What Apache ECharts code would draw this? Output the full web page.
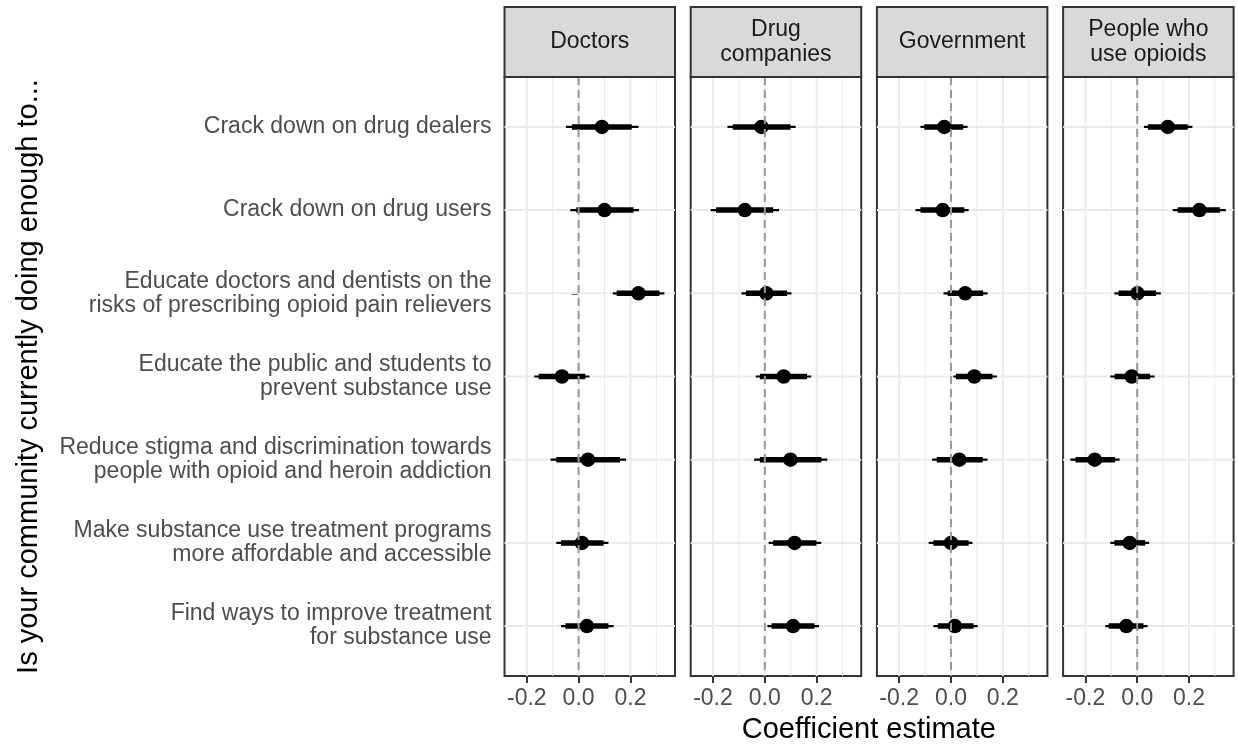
<!DOCTYPE html>
<html><head><meta charset="utf-8">
<script src="https://cdn.jsdelivr.net/npm/echarts@6/dist/echarts.min.js"></script>
<style>html,body{margin:0;padding:0;background:#fff}#c{width:1238px;height:744px}</style>
</head><body><div id="c"></div>
<script>
// ---------- DATA ----------
const categories = [
  'Crack down on drug dealers',
  'Crack down on drug users',
  'Educate doctors and dentists on the\nrisks of prescribing opioid pain relievers',
  'Educate the public and students to\nprevent substance use',
  'Reduce stigma and discrimination towards\npeople with opioid and heroin addiction',
  'Make substance use treatment programs\nmore affordable and accessible',
  'Find ways to improve treatment\nfor substance use'
];
const panels = ['Doctors', 'Drug\ncompanies', 'Government', 'People who\nuse opioids'];

const doctorsEst     = [0.090, 0.100, 0.231, -0.064, 0.036, 0.013, 0.032];
const doctorsThickLo = [-0.026, -0.009, 0.147, -0.154, -0.086, -0.068, -0.051];
const doctorsThickHi = [0.205, 0.212, 0.312, 0.026, 0.160, 0.096, 0.115];
const doctorsThinLo  = [-0.049, -0.032, 0.132, -0.171, -0.108, -0.086, -0.068];
const doctorsThinHi  = [0.231, 0.233, 0.331, 0.042, 0.183, 0.115, 0.135];

const drugCoEst     = [-0.013, -0.077, 0.006, 0.073, 0.099, 0.115, 0.109];
const drugCoThickLo = [-0.124, -0.188, -0.073, -0.019, -0.019, 0.032, 0.026];
const drugCoThickHi = [0.099, 0.032, 0.086, 0.163, 0.218, 0.199, 0.192];
const drugCoThinLo  = [-0.144, -0.209, -0.090, -0.035, -0.041, 0.015, 0.010];
const drugCoThinHi  = [0.119, 0.055, 0.103, 0.179, 0.241, 0.218, 0.209];

const govEst     = [-0.026, -0.032, 0.055, 0.090, 0.032, 0.000, 0.015];
const govThickLo = [-0.103, -0.118, -0.013, 0.019, -0.055, -0.068, -0.051];
const govThickHi = [0.047, 0.051, 0.124, 0.160, 0.122, 0.068, 0.087];
const govThinLo  = [-0.118, -0.137, -0.029, 0.009, -0.073, -0.086, -0.068];
const govThinHi  = [0.064, 0.068, 0.141, 0.177, 0.141, 0.083, 0.103];

const usersEst     = [0.118, 0.240, 0.001, -0.021, -0.164, -0.029, -0.042];
const usersThickLo = [0.041, 0.156, -0.072, -0.087, -0.238, -0.088, -0.110];
const usersThickHi = [0.195, 0.319, 0.073, 0.050, -0.085, 0.031, 0.024];
const usersThinLo  = [0.026, 0.137, -0.088, -0.104, -0.258, -0.104, -0.123];
const usersThinHi  = [0.213, 0.342, 0.091, 0.067, -0.068, 0.046, 0.040];

const xTickValues = [-0.2, 0.0, 0.2];
const xTickLabels = ['-0.2', '0.0', '0.2'];
const xMajorGrid = [-0.2, 0.0, 0.2];
const xMinorGrid = [-0.1, 0.1, 0.3];
const refLineValue = [0];

// ---------- LAYOUT ----------
const panelData = [
  [doctorsEst, doctorsThickLo, doctorsThickHi, doctorsThinLo, doctorsThinHi],
  [drugCoEst, drugCoThickLo, drugCoThickHi, drugCoThinLo, drugCoThinHi],
  [govEst, govThickLo, govThickHi, govThinLo, govThinHi],
  [usersEst, usersThickLo, usersThickHi, usersThinLo, usersThinHi]
];
const FONT = '"Liberation Sans", Arial, Helvetica, sans-serif';
const GRID_LEFT0 = 504.5, GRID_STEP = 186.2, GRID_W = 170.5, GRID_TOP = 77, GRID_H = 599;
const X_MIN = -0.286, X_MAX = 0.372;
const Y_MIN = 0.4, Y_MAX = 7.6;
const rowValues = categories.map((c, i) => i + 1);

const grids = [], xAxes = [], yAxes = [], series = [], graphics = [];

function rangeRender(width) {
  return function (params, api) {
    const p1 = api.coord([api.value(0), api.value(2)]);
    const p2 = api.coord([api.value(1), api.value(2)]);
    return { type: 'line', shape: { x1: p1[0], y1: p1[1], x2: p2[0], y2: p2[1] },
      style: { stroke: '#000000', lineWidth: width, lineCap: 'butt' } };
  };
}

panels.forEach((name, p) => {
  const left = GRID_LEFT0 + p * GRID_STEP;
  const [est, tkLo, tkHi, tnLo, tnHi] = panelData[p];
  grids.push({ left: left, top: GRID_TOP, width: GRID_W, height: GRID_H, show: true,
    borderColor: '#333333', borderWidth: 2, backgroundColor: '#ffffff' });
  xAxes.push({
    type: 'value', gridIndex: p, min: X_MIN, max: X_MAX,
    axisLine: { show: false }, splitLine: { show: false }, minorTick: { show: false },
    axisTick: { show: true, customValues: xTickValues, length: 7, lineStyle: { color: '#333333', width: 2 } },
    axisLabel: { customValues: xTickValues, margin: 11, fontSize: 23, fontFamily: FONT, color: '#4d4d4d',
      formatter: v => xTickLabels[xTickValues.findIndex(t => Math.abs(t - v) < 1e-6)] }
  });
  yAxes.push({
    type: 'value', gridIndex: p, min: Y_MIN, max: Y_MAX, inverse: true,
    axisLine: { show: false }, splitLine: { show: false },
    axisTick: { show: p === 0, customValues: rowValues, length: 7, lineStyle: { color: '#333333', width: 2 } },
    axisLabel: { show: p === 0, customValues: rowValues, margin: 13, fontSize: 23, lineHeight: 24,
      fontFamily: FONT, color: '#4d4d4d', align: 'right',
      formatter: v => categories[Math.round(v) - 1] }
  });
  // vertical grid lines
  series.push({
    type: 'custom', xAxisIndex: p, yAxisIndex: p, z: 1, silent: true, clip: false,
    encode: { x: 0, y: 1 },
    data: xMajorGrid.map(v => [v, 1, 1]).concat(xMinorGrid.map(v => [v, 1, 0])),
    renderItem: function (params, api) {
      const cs = params.coordSys;
      const x = api.coord([api.value(0), 1])[0];
      return { type: 'line', shape: { x1: x, y1: cs.y, x2: x, y2: cs.y + cs.height },
        style: { stroke: '#ebebeb', lineWidth: api.value(2) ? 2 : 1 } };
    }
  });
  // horizontal grid lines
  series.push({
    type: 'custom', xAxisIndex: p, yAxisIndex: p, z: 1, silent: true, clip: false,
    encode: { x: 0, y: 1 },
    data: rowValues.map(r => [0, r]),
    renderItem: function (params, api) {
      const cs = params.coordSys;
      const y = api.coord([0, api.value(1)])[1];
      return { type: 'line', shape: { x1: cs.x, y1: y, x2: cs.x + cs.width, y2: y },
        style: { stroke: '#ebebeb', lineWidth: 2 } };
    }
  });
  // thin interval
  series.push({
    type: 'custom', xAxisIndex: p, yAxisIndex: p, z: 3, silent: true,
    encode: { x: [0, 1], y: 2 },
    data: rowValues.map((r, i) => [tnLo[i], tnHi[i], r]),
    renderItem: rangeRender(2.2)
  });
  // thick interval
  series.push({
    type: 'custom', xAxisIndex: p, yAxisIndex: p, z: 4, silent: true,
    encode: { x: [0, 1], y: 2 },
    data: rowValues.map((r, i) => [tkLo[i], tkHi[i], r]),
    renderItem: rangeRender(5.5)
  });
  // point estimates
  series.push({
    type: 'scatter', xAxisIndex: p, yAxisIndex: p, z: 5, silent: true,
    symbol: 'circle', symbolSize: 14.5, itemStyle: { color: '#000000', opacity: 1 },
    data: rowValues.map((r, i) => [est[i], r])
  });
  // dashed reference line at zero
  series.push({
    type: 'custom', xAxisIndex: p, yAxisIndex: p, z: 6, silent: true, clip: false,
    encode: { x: 0, y: 1 },
    data: refLineValue.map(v => [v, 1]),
    renderItem: function (params, api) {
      const cs = params.coordSys;
      const x = api.coord([api.value(0), 1])[0];
      return { type: 'line', shape: { x1: x, y1: cs.y, x2: x, y2: cs.y + cs.height },
        style: { stroke: '#999999', lineWidth: 2, lineDash: [8, 5] } };
    }
  });
  // strip header
  graphics.push({ type: 'rect', z: 10, shape: { x: left, y: 7, width: GRID_W, height: GRID_TOP - 7 },
    style: { fill: '#d9d9d9', stroke: '#333333', lineWidth: 2 } });
  graphics.push({ type: 'text', z: 11, x: left + GRID_W / 2, y: 42,
    style: { text: name, fontSize: 23, fontFamily: FONT, fill: '#1a1a1a', align: 'center',
      verticalAlign: 'middle', lineHeight: 25 } });
});

graphics.push({ type: 'text', z: 11, x: 868.8, y: 730,
  style: { text: 'Coefficient estimate', fontSize: 29, fontFamily: FONT, fill: '#000000',
    align: 'center', verticalAlign: 'middle' } });
graphics.push({ type: 'text', z: 11, x: 29, y: 376.5, rotation: Math.PI / 2,
  style: { text: 'Is your community currently doing enough to...', fontSize: 29, fontFamily: FONT,
    fill: '#000000', align: 'center', verticalAlign: 'middle' } });

const chart = echarts.init(document.getElementById('c'), null, { renderer: 'canvas' });
chart.setOption({
  backgroundColor: '#ffffff',
  animation: false,
  grid: grids, xAxis: xAxes, yAxis: yAxes, series: series, graphic: graphics
});
</script>
</body></html>
